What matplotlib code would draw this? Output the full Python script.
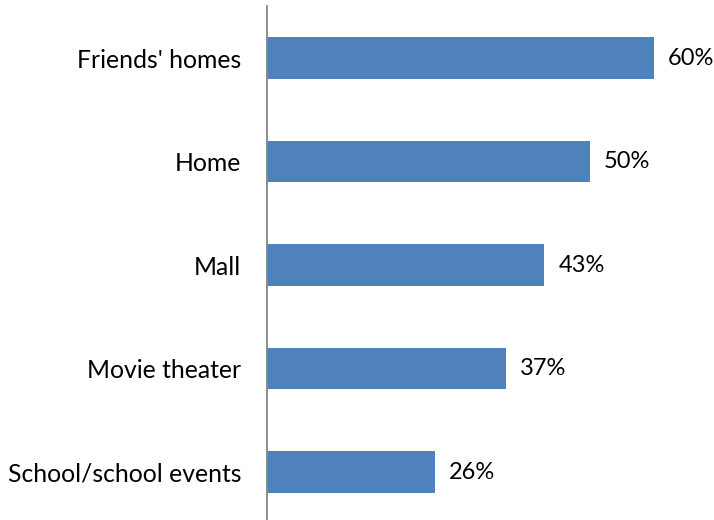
import matplotlib.pyplot as plt

categories = ["Friends' homes", "Home", "Mall", "Movie theater", "School/school events"]
values = [60, 50, 43, 37, 26]

plt.rcParams['font.family'] = ['Lato', 'DejaVu Sans']

fig = plt.figure(figsize=(7.14, 5.2), dpi=100)
# axes start at the category axis line, spanning five category slots
ax = fig.add_axes([267 / 714, -3.8 / 520, 447 / 714, 517.5 / 520])

pos = list(range(len(categories)))
ax.barh(pos, values, height=0.4, color='#4F81BD', edgecolor='none')
ax.set_ylim(len(categories) - 0.5, -0.5)
ax.set_xlim(0, 447 / 6.45)

for p, v in zip(pos, values):
    ax.text(v + 2.2, p, f'{v}%', va='center', ha='left', fontsize=17)

ax.set_yticks(pos)
ax.set_yticklabels(categories, fontsize=17.8)
ax.tick_params(axis='y', length=0, pad=18.5)
ax.set_xticks([])

for side in ['top', 'right', 'bottom']:
    ax.spines[side].set_visible(False)
ax.spines['left'].set_color('#868686')
ax.spines['left'].set_linewidth(1.3)

fig.savefig('out.png', dpi=100)
